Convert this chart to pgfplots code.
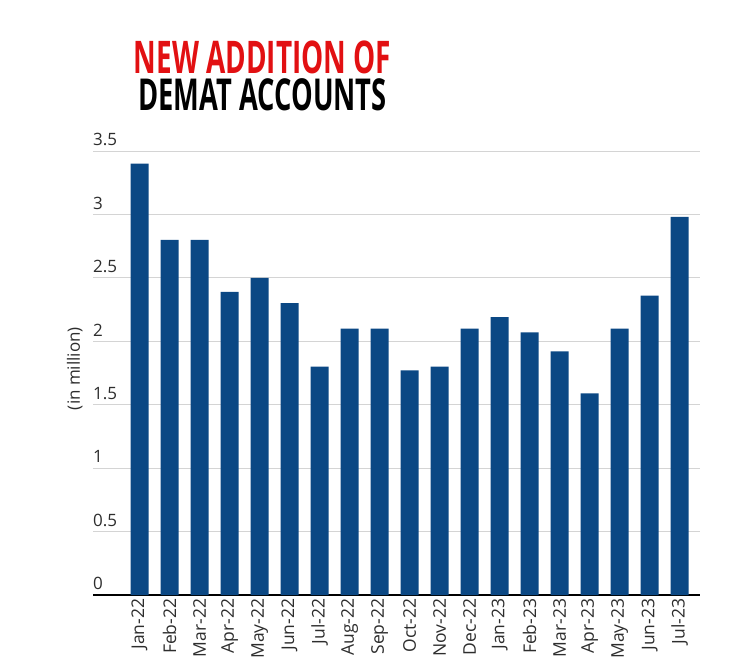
\documentclass[border=0pt]{standalone}
\usepackage{pgfplots}
\pgfplotsset{compat=1.18}
\usepackage{fontspec}
\setmainfont{Open Sans}
\usepackage{graphicx}
\definecolor{barblue}{RGB}{11,72,132}
\definecolor{titlered}{RGB}{226,16,18}
\definecolor{gridgray}{RGB}{212,212,212}
\definecolor{ticktext}{RGB}{45,45,45}
\pgfplotstableread{
x y
0 3.40
1 2.80
2 2.80
3 2.39
4 2.50
5 2.30
6 1.80
7 2.10
8 2.10
9 1.77
10 1.80
11 2.10
12 2.19
13 2.07
14 1.92
15 1.59
16 2.10
17 2.36
18 2.98
}\datatable
\begin{document}
\begin{tikzpicture}[x=1pt,y=1pt]
\useasboundingbox (0,0) rectangle (750,670);
\node[anchor=north, inner sep=0pt, align=center, font=\fontsize{45}{37}\selectfont\bfseries] at (262.5,629.5)
  {\scalebox{0.62}[1]{\color{titlered}NEW ADDITION OF}\\\scalebox{0.62}[1]{\fontsize{44}{37}\selectfont\bfseries DEMAT ACCOUNTS}};
\begin{axis}[
  at={(93pt,75pt)}, anchor=south west,
  scale only axis, width=607pt, height=444pt,
  xmin=-1.55, xmax=18.68, ymin=0, ymax=3.5,
  ytick={0,0.5,1,1.5,2,2.5,3,3.5},
  yticklabels={0,0.5,1,1.5,2,2.5,3,3.5},
  xtick={0,...,18},
  xticklabels={Jan-22,Feb-22,Mar-22,Apr-22,May-22,Jun-22,Jul-22,Aug-22,Sep-22,Oct-22,Nov-22,Dec-22,Jan-23,Feb-23,Mar-23,Apr-23,May-23,Jun-23,Jul-23},
  major tick length=0pt,
  ymajorgrids, grid style={gridgray, line width=0.9pt},
  axis x line*=bottom, axis y line*=left,
  x axis line style={black, line width=1.6pt, -},
  y axis line style={draw=none},
  yticklabel style={anchor=south west, inner sep=0pt, yshift=5pt, font=\fontsize{17}{17}\selectfont, text=ticktext},
  xticklabel style={rotate=90, anchor=east, inner sep=3.5pt, font=\fontsize{17.5}{17.5}\selectfont, text=ticktext},
  ylabel={(in million)},
  ylabel style={at={(axis description cs:-0.03,0.51)}, anchor=center, font=\fontsize{17}{17}\selectfont, text=ticktext},
  /pgf/number format/assume math mode=true,
  clip=false,
]
\addplot[ybar, bar width=0.6, fill=barblue, draw=none] table[x=x,y=y] {\datatable};
\end{axis}
\end{tikzpicture}
\end{document}
